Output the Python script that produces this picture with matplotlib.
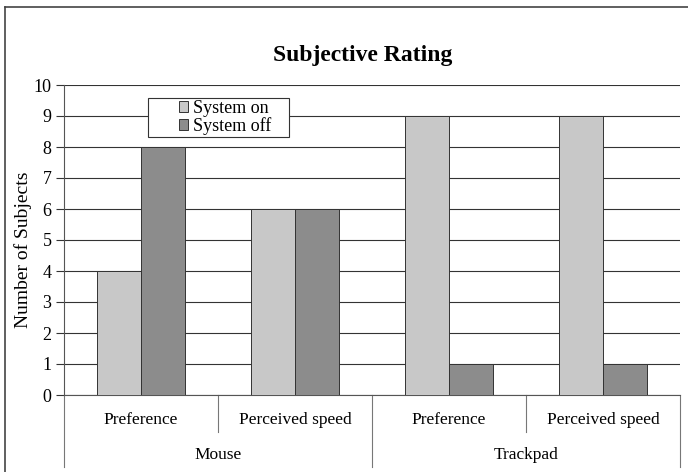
import numpy as np
import matplotlib.pyplot as plt
from matplotlib.lines import Line2D
from matplotlib.patches import Rectangle

plt.rcParams['font.family'] = ['Liberation Serif', 'DejaVu Serif']

measures = ['Preference', 'Perceived speed', 'Preference', 'Perceived speed']
devices = ['Mouse', 'Trackpad']
system_on = [4, 6, 9, 9]
system_off = [8, 6, 1, 1]

fig = plt.figure(figsize=(6.88, 4.72), dpi=100)
W, H = 688, 472
ax = fig.add_axes([64 / W, 1 - 395 / H, (680 - 64) / W, 310 / H])

x = np.arange(len(measures))
w = 0.285
ax.bar(x - w / 2, system_on, w, color='#c8c8c8', edgecolor='#333333', linewidth=0.7,
       label='System on', zorder=3)
ax.bar(x + w / 2, system_off, w, color='#8c8c8c', edgecolor='#333333', linewidth=0.7,
       label='System off', zorder=3)

ax.set_xlim(-0.5, 3.5)
ax.set_ylim(0, 10)
ax.set_yticks(range(11))
ax.yaxis.grid(True, color='#333333', linewidth=0.8, zorder=0)
ax.tick_params(axis='y', labelsize=13, length=6, direction='out', color='#333333', pad=3)
ax.set_xticks([])
for s in ['top', 'right']:
    ax.spines[s].set_visible(False)
ax.spines['left'].set_color('#555555')
ax.spines['bottom'].set_color('#555555')
ax.set_ylabel('Number of Subjects', fontsize=14)
ax.yaxis.set_label_coords((32 - 64) / 616, (395 - 250) / 310)

fig.text(363 / W, 1 - 55 / H, 'Subjective Rating', fontsize=17, fontweight='bold',
         ha='center', va='center')

# two level category axis below the plot
trans = ax.get_xaxis_transform()
ax_h = 310
def yoff(px):
    return -px / ax_h

for xs in [0.5, 2.5]:
    ax.add_line(Line2D([xs, xs], [0, yoff(37)], transform=trans, color='#777777',
                       linewidth=0.8, clip_on=False))
for xs in [-0.5, 1.5, 3.5]:
    ax.add_line(Line2D([xs, xs], [0, yoff(72)], transform=trans, color='#777777',
                       linewidth=0.8, clip_on=False))
for i, m in enumerate(measures):
    ax.text(i, yoff(25), m, transform=trans, ha='center', va='center', fontsize=12.5)
for j, d in enumerate(devices):
    ax.text(2 * j + 0.5, yoff(60), d, transform=trans, ha='center', va='center', fontsize=12.5)

# legend box
box = Rectangle((148 / W, 1 - 137 / H), 141 / W, 39 / H, transform=fig.transFigure,
                facecolor='white', edgecolor='#333333', linewidth=0.8, zorder=4, clip_on=False)
ax.add_patch(box)
leg = ax.legend(loc='upper left', bbox_to_anchor=(179 / W, 1 - 100 / H),
                bbox_transform=fig.transFigure, frameon=False, fontsize=13,
                handlelength=0.5, handleheight=0.5, handletextpad=0.25, labelspacing=0.0,
                borderpad=0, borderaxespad=0)
leg.set_zorder(5)

# outer frame of the figure (top and left)
fig.add_artist(Line2D([5 / W, 5 / W], [0, 1 - 7 / H], color='#444444', linewidth=1.2))
fig.add_artist(Line2D([5 / W, 1], [1 - 7 / H, 1 - 7 / H], color='#444444', linewidth=1.2))

fig.savefig('out.png', dpi=100)
